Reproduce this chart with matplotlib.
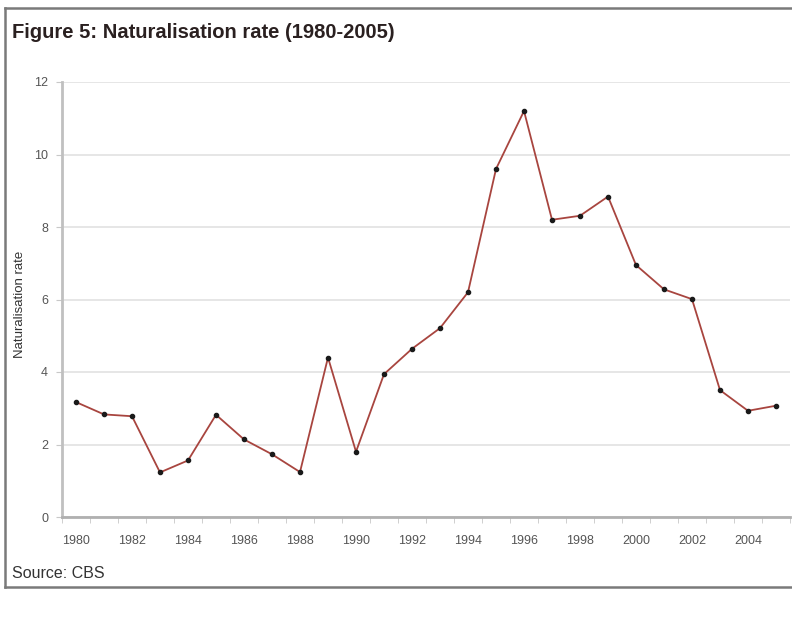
import matplotlib.pyplot as plt
from matplotlib.lines import Line2D

years = list(range(1980, 2006))
rate = [3.17, 2.83, 2.78, 1.23, 1.56, 2.82, 2.14, 1.73, 1.24, 4.40,
        1.80, 3.94, 4.64, 5.21, 6.20, 9.60, 11.20, 8.20, 8.31, 8.84,
        6.95, 6.28, 6.01, 3.50, 2.93, 3.07]
year_labels = [str(y) for y in range(1980, 2006, 2)]

plt.rcParams['font.family'] = ['Liberation Sans', 'DejaVu Sans']

fig = plt.figure(figsize=(7.92, 6.21), dpi=100)
W, H = 792, 621

# outer frame
for (x0, y0, x1, y1) in [(5, 8, 5, 587), (5, 8, 800, 8), (5, 587, 800, 587)]:
    fig.add_artist(Line2D([x0 / W, x1 / W], [1 - y0 / H, 1 - y1 / H],
                          color='#7a7a7a', lw=1.8, transform=fig.transFigure))

fig.text(12 / W, 1 - 32 / H, 'Figure 5: Naturalisation rate (1980-2005)',
         fontsize=14.5, fontweight='bold', color='#2a2020', va='center', ha='left')
fig.text(12 / W, 1 - 573 / H, 'Source: CBS', fontsize=11.5, color='#333333',
         va='center', ha='left')

left, right, top, bottom = 62, 790, 82, 517
ax = fig.add_axes([left / W, 1 - bottom / H, (right - left) / W, (bottom - top) / H])
px_per_year = 28.13
ax.set_xlim(1979.5, 1979.5 + (right - left) / px_per_year)
ax.set_ylim(0, 12)

ax.plot(years, rate, color='#a8453f', lw=1.3, marker='o', markersize=3,
        markerfacecolor='#1a1a1a', markeredgecolor='#1a1a1a', zorder=3)

ax.set_yticks(range(0, 13, 2))
ax.grid(axis='y', color='#e2e2e2', lw=1.2)
ax.set_axisbelow(True)
ax.set_xticks(range(1980, 2006, 2))
ax.set_xticklabels(year_labels)
ax.set_xticks([y + 0.5 for y in range(1979, 2006)], minor=True)
ax.tick_params(axis='x', which='major', length=0, pad=13, labelsize=9, labelcolor='#555555')
ax.tick_params(axis='x', which='minor', length=4, color='#c8c8c8', direction='out')
ax.tick_params(axis='y', length=4, color='#c8c8c8', pad=6, labelsize=9, labelcolor='#555555')

for s in ['top', 'right']:
    ax.spines[s].set_visible(False)
ax.spines['left'].set_color('#c0c0c0')
ax.spines['left'].set_linewidth(2)
ax.spines['bottom'].set_color('#b0b0b0')
ax.spines['bottom'].set_linewidth(2)

fig.text(20 / W, 1 - 304 / H, 'Naturalisation rate', rotation=90, fontsize=9.5,
         color='#333333', va='center', ha='center')

fig.savefig('out.png', dpi=100)
